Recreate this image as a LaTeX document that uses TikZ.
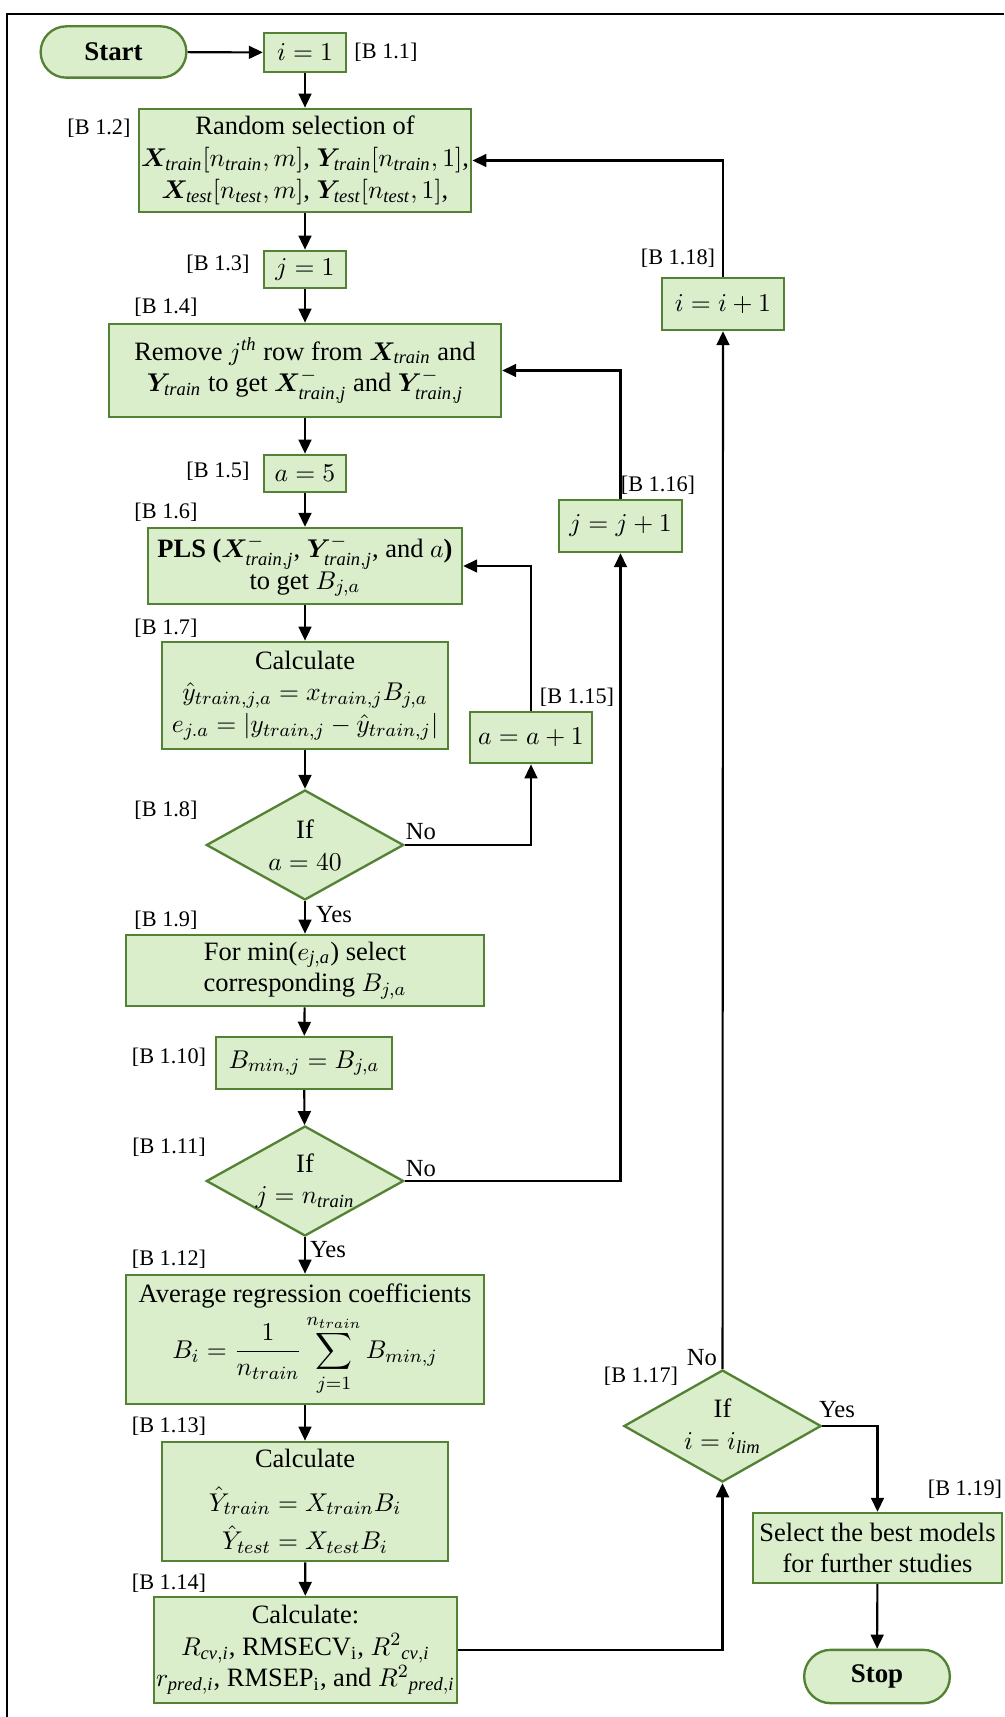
\documentclass[tikz,border=0pt]{standalone}
\usepackage{amsmath}
\usepackage{bm}
\usepackage{fontspec}
\setmainfont{Liberation Serif}
\usetikzlibrary{shapes.geometric}
\usetikzlibrary{shapes.misc}
\usetikzlibrary{arrows.meta}

\definecolor{boxfill}{RGB}{218,238,203}
\definecolor{boxline}{RGB}{84,130,53}

\begin{document}
\begin{tikzpicture}[x=0.015cm,y=-0.015cm,font=\fontsize{11.3}{13.5}\selectfont,
  blk/.style={rectangle,draw=boxline,fill=boxfill,line width=1pt,align=center,inner sep=1pt},
  term/.style={rounded rectangle,draw=boxline,fill=boxfill,line width=1pt,font=\fontsize{11.5}{13.5}\selectfont\bfseries},
  dec/.style={diamond,draw=boxline,fill=boxfill,line width=1pt,align=center,inner xsep=-8pt,inner ysep=-3pt},
  lbl/.style={font=\fontsize{9.5}{11}\selectfont,inner sep=0pt},
  yn/.style={font=\fontsize{10.5}{12}\selectfont,inner sep=0pt},
  flow/.style={line width=0.9pt,-{Triangle[length=6pt,width=5.5pt]}}]
\useasboundingbox (0,0) rectangle (1004,1717);
\draw[line width=0.9pt] (7,1717) |- (1004,14);

% main column
\node[term,minimum width=2.42cm,minimum height=0.77cm] (start) at (113.5,52) {Start};
\node[blk,minimum width=1.23cm,minimum height=0.59cm] (ione) at (305,52.5) {$i = 1$};
\node[blk,minimum width=4.98cm,minimum height=1.55cm] (rand) at (305,160.5) {Random selection of\\
  $\bm{X}_{\mathit{train}}[n_{\mathit{train}},m]$, $\bm{Y}_{\mathit{train}}[n_{\mathit{train}},1]$,\\
  $\bm{X}_{\mathit{test}}[n_{\mathit{test}},m]$, $\bm{Y}_{\mathit{test}}[n_{\mathit{test}},1]$,};
\node[blk,minimum width=1.23cm,minimum height=0.56cm] (jone) at (305,269.5) {$j = 1$};
\node[blk,minimum width=5.88cm,minimum height=1.40cm] (remove) at (305,370.5) {Remove $j^{\mathit{th}}$ row from $\bm{X}_{\mathit{train}}$ and\\
  $\bm{Y}_{\mathit{train}}$ to get $\bm{X}^{-}_{\mathit{train,j}}$ and $\bm{Y}^{-}_{\mathit{train,j}}$};
\node[blk,minimum width=1.23cm,minimum height=0.56cm] (afive) at (305,473.5) {$a = 5$};
\node[blk,minimum width=4.71cm,minimum height=1.14cm] (pls) at (305,566) {\textbf{PLS (}$\bm{X}^{-}_{\mathit{train,j}}$, $\bm{Y}^{-}_{\mathit{train,j}}$, and $a$\textbf{)}\\
  to get $B_{j,a}$};
\node[blk,minimum width=4.29cm,minimum height=1.61cm] (calca) at (305,695.5) {Calculate\\
  $\hat{y}_{train,j,a} = x_{train,j}B_{j,a}$\\
  $e_{j.a} = \left|y_{train,j} - \hat{y}_{train,j}\right|$};
\node[dec,minimum width=2.96cm,minimum height=1.65cm] (ifa) at (305,845) {If\\ $a = 40$};
\node[blk,minimum width=5.37cm,minimum height=1.07cm] (minsel) at (305,970.5) {For min($e_{\mathit{j,a}}$) select\\
  corresponding $B_{j,a}$};
\node[blk,minimum width=2.64cm,minimum height=0.78cm] (bmin) at (304,1063) {$B_{min,j} = B_{j,a}$};
\node[dec,minimum width=2.96cm,minimum height=1.65cm] (ifj) at (305,1181) {If\\ $j = n_{\mathit{train}}$};
\node[blk,minimum width=5.37cm,minimum height=1.94cm] (avg) at (305,1339.5) {Average regression coefficients\\[2pt]
  $\displaystyle B_i = \frac{1}{n_{train}}\sum_{j=1}^{n_{train}} B_{min,j}$};
\node[blk,minimum width=4.29cm,minimum height=1.79cm] (calcb) at (305,1501.5) {Calculate\\[5pt]
  $\hat{Y}_{train} = X_{train}B_i$\\[3pt]
  $\hat{Y}_{test} = X_{test}B_i$};
\node[blk,minimum width=4.43cm,minimum height=1.59cm] (calcc) at (305.5,1650) {Calculate:\\
  $R_{\mathit{cv,i}}$, RMSECV$_\mathrm{i}$, $R^2{}_{\mathit{cv,i}}$\\
  $r_{\mathit{pred,i}}$, RMSEP$_\mathrm{i}$, and $R^2{}_{\mathit{pred,i}}$};

% loop boxes
\node[blk,minimum width=1.83cm,minimum height=0.77cm] (aplus) at (531,737.5) {$a = a + 1$};
\node[blk,minimum width=1.85cm,minimum height=0.78cm] (jplus) at (620.5,526) {$j = j + 1$};
\node[blk,minimum width=1.83cm,minimum height=0.78cm] (iplus) at (723,304) {$i = i + 1$};
\node[dec,minimum width=2.96cm,minimum height=1.68cm] (ifi) at (722.5,1426) {If\\ $i = i_{\mathit{lim}}$};
\node[blk,minimum width=3.74cm,minimum height=1.05cm] (select) at (877.5,1548) {Select the best models\\
  for further studies};
\node[term,minimum width=2.42cm,minimum height=0.80cm] (stop) at (877,1676.5) {Stop};

% step labels
\node[lbl] (l1) at (386,52) {[B 1.1]};
\node[lbl] (l2) at (99,128) {[B 1.2]};
\node[lbl] (l3) at (218,264) {[B 1.3]};
\node[lbl] (l4) at (166,307) {[B 1.4]};
\node[lbl] (l5) at (218,471) {[B 1.5]};
\node[lbl] (l6) at (166,512) {[B 1.6]};
\node[lbl] (l7) at (166,628) {[B 1.7]};
\node[lbl] (l8) at (166,810) {[B 1.8]};
\node[lbl] (l9) at (166,920) {[B 1.9]};
\node[lbl] (l10) at (169,1057) {[B 1.10]};
\node[lbl] (l11) at (169,1147) {[B 1.11]};
\node[lbl] (l12) at (169,1259) {[B 1.12]};
\node[lbl] (l13) at (169,1426) {[B 1.13]};
\node[lbl] (l14) at (169,1583) {[B 1.14]};
\node[lbl] (l15) at (577,697) {[B 1.15]};
\node[lbl] (l16) at (658,485) {[B 1.16]};
\node[lbl] (l17) at (641,1376) {[B 1.17]};
\node[lbl] (l18) at (678,258) {[B 1.18]};
\node[lbl] (l19) at (965,1489) {[B 1.19]};

% connectors
\draw[flow] (start) -- (ione);
\draw[flow] (ione) -- (rand);
\draw[flow] (rand) -- (jone);
\draw[flow] (jone) -- (remove);
\draw[flow] (remove) -- (afive);
\draw[flow] (afive) -- (pls);
\draw[flow] (pls) -- (calca);
\draw[flow] (calca) -- (ifa);
\draw[flow] (ifa.east) -| (aplus.south);
\draw[flow] (aplus.north) |- (pls.east);
\draw[flow] (ifa) -- (minsel);
\draw[flow] (minsel) -- (bmin);
\draw[flow] (bmin) -- (ifj);
\draw[flow] (ifj.east) -| (jplus.south);
\draw[flow] (jplus.north) |- (remove.east);
\draw[flow] (ifj) -- (avg);
\draw[flow] (avg) -- (calcb);
\draw[flow] (calcb) -- (calcc);
\draw[flow] (calcc.east) -| (ifi.south);
\draw[flow] (ifi) -- (iplus);
\draw[flow] (iplus.north) |- (rand.east);
\draw[flow] (ifi.east) -| (select.north);
\draw[flow] (select) -- (stop);

% branch words
\node[yn] (noa) at (421,832) {No};
\node[yn] (yesa) at (334,915) {Yes};
\node[yn] (noj) at (421,1169) {No};
\node[yn] (yesj) at (328,1250) {Yes};
\node[yn] (noi) at (702,1358) {No};
\node[yn] (yesi) at (837,1410) {Yes};

\end{tikzpicture}
\end{document}
